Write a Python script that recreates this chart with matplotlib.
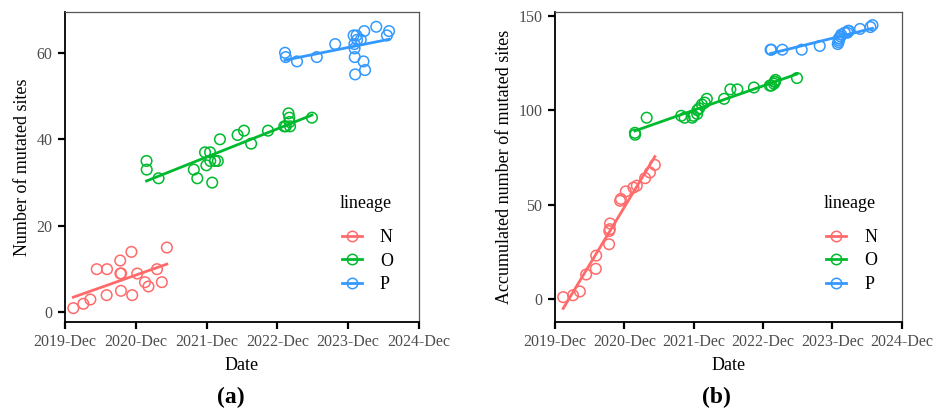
import numpy as np
import pandas as pd
import matplotlib
matplotlib.use('Agg')
import matplotlib.pyplot as plt
import matplotlib.dates as mdates
from matplotlib.lines import Line2D

plt.rcParams['font.family'] = ['Liberation Serif', 'DejaVu Serif']

lineages = ['N', 'O', 'P']
colors = {'N': '#FF6B6B', 'O': '#00BA2E', 'P': '#3399FF'}

n_dates = ['2020-01-13', '2020-03-05', '2020-04-10', '2020-05-13', '2020-07-03', '2020-07-05',
           '2020-09-11', '2020-09-12', '2020-09-15', '2020-09-16', '2020-11-08', '2020-11-12',
           '2020-12-08', '2021-01-17', '2021-02-04', '2021-03-20', '2021-04-14', '2021-05-10']
n_sites = [1, 2, 3, 10, 4, 10, 12, 9, 5, 9, 14, 4, 9, 7, 6, 10, 7, 15]
n_accum = [1, 2, 4, 13, 16, 23, 29, 36, 37, 40, 52, 53, 57, 59, 60, 64, 67, 71]

o_dates = ['2021-01-25', '2021-01-26', '2021-03-28', '2021-09-26', '2021-10-14', '2021-11-23',
           '2021-11-30', '2021-12-19', '2021-12-20', '2021-12-30', '2022-01-13', '2022-01-28',
           '2022-02-08', '2022-05-10', '2022-06-12', '2022-07-19', '2022-10-14', '2023-01-06',
           '2023-01-14', '2023-01-28', '2023-02-01', '2023-02-02', '2023-02-05', '2023-05-29']
o_sites = [35, 33, 31, 33, 31, 37, 34, 37, 35, 30, 35, 35, 40, 41, 42, 39, 42, 43, 43, 46, 45, 44, 43, 45]
o_accum = [88, 87, 96, 97, 96, 96, 97, 98, 100, 101, 103, 104, 106, 106, 111, 111, 112, 113,
           113, 114, 115, 115, 116, 117]

p_dates = ['2023-01-10', '2023-01-14', '2023-03-13', '2023-06-23', '2023-09-26', '2023-12-30',
           '2024-01-03', '2024-01-04', '2024-01-05', '2024-01-07', '2024-01-14', '2024-01-17',
           '2024-02-05', '2024-02-19', '2024-02-23', '2024-02-27', '2024-04-25', '2024-06-19',
           '2024-06-30']
p_sites = [60, 59, 58, 59, 62, 64, 62, 61, 59, 55, 64, 63, 63, 58, 65, 56, 66, 64, 65]
p_accum = [132, 132, 132, 132, 134, 135, 136, 137, 138, 138, 139, 140, 141, 141, 142, 142, 143, 144, 145]

tick_dates = ['2019-12-01', '2020-12-01', '2021-12-01', '2022-12-01', '2023-12-01', '2024-12-01']

dates = {'N': n_dates, 'O': o_dates, 'P': p_dates}
sites = {'N': n_sites, 'O': o_sites, 'P': p_sites}
accum = {'N': n_accum, 'O': o_accum, 'P': p_accum}

fig = plt.figure(figsize=(9.35, 4.16), dpi=100)
ax_a = fig.add_axes([0.0695, 0.226, 0.3785, 0.745])
ax_b = fig.add_axes([0.5936, 0.2267, 0.3708, 0.7437])


def draw_panel(ax, values, ylim, yticks, ylabel):
    for lin in lineages:
        x = mdates.date2num(pd.to_datetime(dates[lin]))
        y = np.array(values[lin], dtype=float)
        ax.scatter(x, y, s=58, facecolors='none', edgecolors=colors[lin], linewidths=1.1, zorder=3)
        # linear fit over the data range, like geom_smooth(method='lm')
        k, b = np.polyfit(x, y, 1)
        xs = np.array([x.min(), x.max()])
        ax.plot(xs, k * xs + b, color=colors[lin], lw=2, zorder=2)

    ticks = mdates.date2num(pd.to_datetime(tick_dates))
    ax.set_xlim(ticks[0], ticks[-1])
    ax.set_xticks(ticks)
    ax.xaxis.set_major_formatter(mdates.DateFormatter('%Y-%b'))
    ax.set_ylim(*ylim)
    ax.set_yticks(yticks)

    for side in ['left', 'bottom']:
        ax.spines[side].set_color('black')
        ax.spines[side].set_linewidth(1.3)
    for side in ['top', 'right']:
        ax.spines[side].set_color('#555555')
        ax.spines[side].set_linewidth(0.9)
    ax.tick_params(direction='out', length=5, width=1.6, color='black',
                   labelsize=11.5, labelcolor='#4D4D4D', pad=4)
    ax.set_xlabel('Date', fontsize=13, labelpad=5)
    ax.set_ylabel(ylabel, fontsize=13, labelpad=4)

    handles = [Line2D([0], [0], color=colors[l], lw=2, marker='o', markersize=7.5,
                      markerfacecolor='none', markeredgewidth=1.1) for l in lineages]
    ax.text(0.776, 0.381, 'lineage', transform=ax.transAxes, fontsize=13,
            ha='left', va='center')
    ax.legend(handles, lineages, loc='upper left', bbox_to_anchor=(0.783, 0.30),
              frameon=False, fontsize=13, handlelength=1.1,
              handletextpad=1.0, labelspacing=0.36, borderpad=0, borderaxespad=0)


draw_panel(ax_a, sites, (-2.2, 69.4), [0, 20, 40, 60], 'Number of mutated sites')
draw_panel(ax_b, accum, (-12.0, 151.8), [0, 50, 100, 150], 'Accumulated number of mutated sites')

fig.text(0.247, 0.045, '(a)', ha='center', va='center', fontsize=17, fontweight='bold')
fig.text(0.766, 0.045, '(b)', ha='center', va='center', fontsize=17, fontweight='bold')

fig.savefig('out.png', dpi=100)
